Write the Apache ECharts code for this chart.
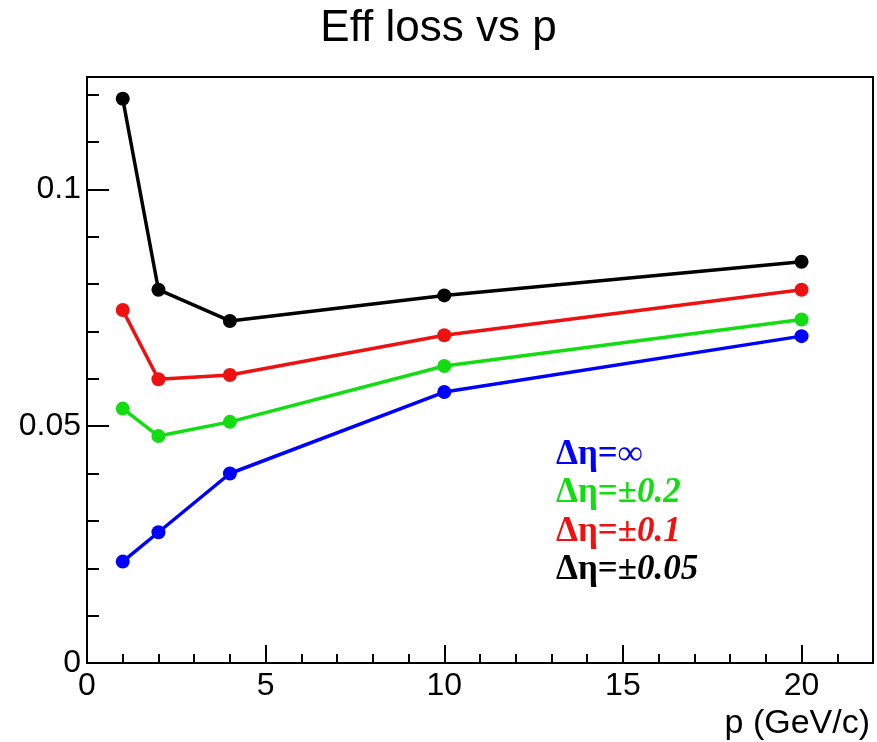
<!DOCTYPE html>
<html>
<head>
<meta charset="utf-8">
<script src="https://cdn.jsdelivr.net/npm/echarts@6/dist/echarts.min.js"></script>
<style>html,body{margin:0;padding:0;background:#fff}#c{width:877px;height:742px}</style>
</head>
<body>
<div id="c"></div>
<script>
// ---- data ----
const pValues = [1, 2, 4, 10, 20];
const effInf  = [0.0214, 0.0276, 0.0400, 0.0572, 0.0690];
const eff02   = [0.0537, 0.0479, 0.0509, 0.0627, 0.0725];
const eff01   = [0.0745, 0.0599, 0.0608, 0.0692, 0.0788];
const eff005  = [0.1191, 0.0788, 0.0722, 0.0776, 0.0847];
const seriesNames = ['Δη=∞', 'Δη=±0.2', 'Δη=±0.1', 'Δη=±0.05'];
const legendPrefix = ['Δη=∞', 'Δη=±', 'Δη=±', 'Δη=±'];
const legendNumber = ['', '0.2', '0.1', '0.05'];
const colors = ['#0000ff', '#11dd11', '#ee1111', '#000000'];
const xMin = 0, xMax = 22, yMin = 0, yMax = 0.1237;

const allY = [effInf, eff02, eff01, eff005];
const pair = arr => pValues.map((p, i) => [p, arr[i]]);

const chart = echarts.init(document.getElementById('c'));
const F = 'Liberation Sans, Arial, Helvetica, sans-serif';
const SERIF = 'Liberation Serif, Times New Roman, serif';

const baseAxisLine = {show: true, onZero: false, lineStyle: {color: '#000', width: 2}};

const series = allY.map((arr, k) => ({
  name: seriesNames[k],
  type: 'line',
  xAxisIndex: 0, yAxisIndex: 0,
  data: pair(arr),
  symbol: 'circle',
  symbolSize: 14,
  lineStyle: {color: colors[k], width: 3.5},
  itemStyle: {color: colors[k]},
  z: 10 + (3 - k),
  animation: false
}));

const legendTexts = seriesNames.map((n, k) => ({
  type: 'text',
  left: 556,
  top: 437 + k * 38.5,
  z: 100,
  style: {
    text: '{a|' + legendPrefix[k] + '}' + (legendNumber[k] ? '{b|' + legendNumber[k] + '}' : ''),
    fill: colors[k],
    rich: {
      a: {fontFamily: SERIF, fontWeight: 'bold', fontSize: 35, fill: colors[k]},
      b: {fontFamily: SERIF, fontWeight: 'bold', fontStyle: 'italic', fontSize: 35, fill: colors[k]}
    }
  }
}));

chart.setOption({
  animation: false,
  backgroundColor: '#fff',
  title: [{
    text: 'Eff loss vs p',
    left: 'center',
    top: 2,
    textStyle: {fontFamily: F, fontWeight: 'normal', fontSize: 44, color: '#000'}
  }],
  grid: {left: 87, top: 77, width: 786, height: 586, show: true, borderColor: '#000', borderWidth: 2, backgroundColor: 'transparent'},
  xAxis: [{
    type: 'value', min: xMin, max: xMax, interval: 5, position: 'bottom',
    axisLine: baseAxisLine,
    axisTick: {show: true, inside: true, length: 18, lineStyle: {color: '#000', width: 2}},
    axisLabel: {show: true, fontFamily: F, fontSize: 32, color: '#000', margin: 7, showMaxLabel: false},
    splitLine: {show: false},
    name: 'p (GeV/c)', nameLocation: 'end', nameGap: 0,
    nameTextStyle: {fontFamily: F, fontSize: 34, color: '#000', align: 'right', verticalAlign: 'top', padding: [44, 3, 0, 0]}
  }, {
    type: 'value', min: xMin, max: xMax, interval: 1, position: 'bottom',
    axisLine: {show: false},
    axisTick: {show: true, inside: true, length: 9, lineStyle: {color: '#000', width: 2}},
    axisLabel: {show: false},
    splitLine: {show: false}
  }],
  yAxis: [{
    type: 'value', min: yMin, max: yMax, interval: 0.05, position: 'left',
    axisLine: baseAxisLine,
    axisTick: {show: true, inside: true, length: 22, lineStyle: {color: '#000', width: 2}},
    axisLabel: {show: true, fontFamily: F, fontSize: 32, color: '#000', margin: 6, showMaxLabel: false},
    splitLine: {show: false}
  }, {
    type: 'value', min: yMin, max: yMax, interval: 0.01, position: 'left',
    axisLine: {show: false},
    axisTick: {show: true, inside: true, length: 12, lineStyle: {color: '#000', width: 2}},
    axisLabel: {show: false},
    splitLine: {show: false}
  }],
  series: series,
  graphic: legendTexts
});
</script>
</body>
</html>
